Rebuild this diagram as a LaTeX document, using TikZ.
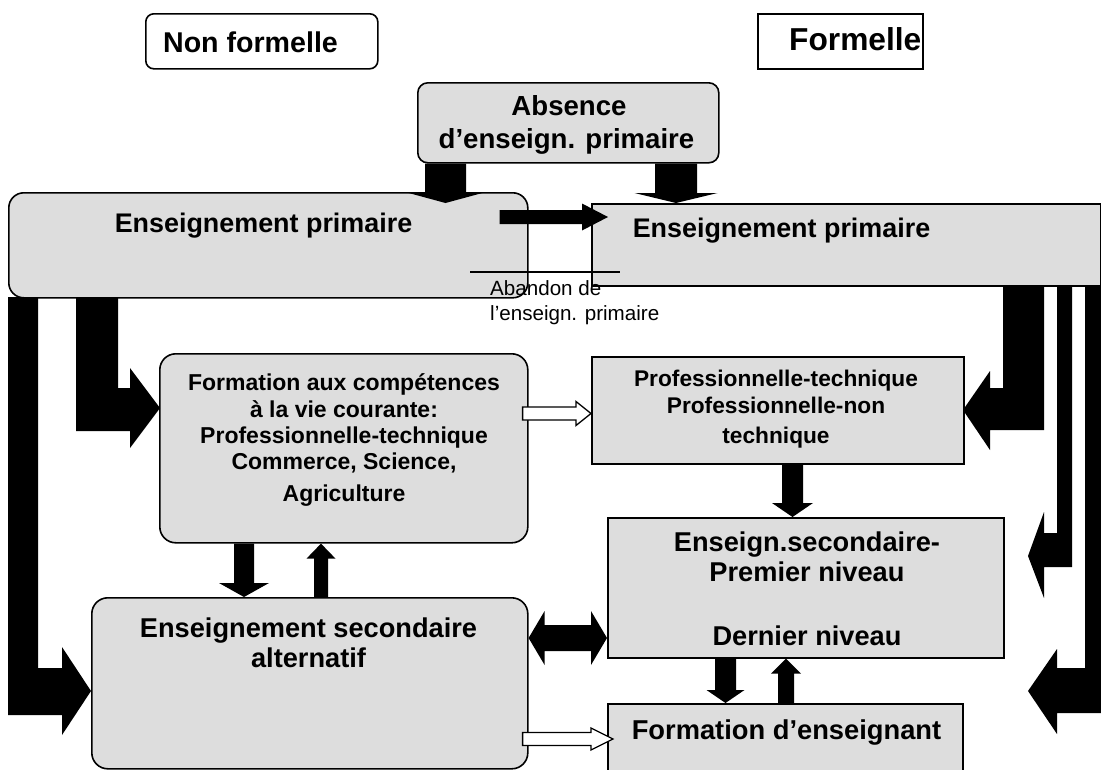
\documentclass[tikz,border=0pt]{standalone}
\usepackage{fontspec}
\setmainfont{Liberation Sans}
\usetikzlibrary{calc}
\definecolor{boxgray}{RGB}{221,221,221}
\newcommand\myfs[1]{\fontsize{#1}{#1}\selectfont\bfseries}
\newcommand\myfr[1]{\fontsize{#1}{#1}\selectfont}
% vertical fat arrows: #2 start, #3 tip, #4 shaft half width, #5 head half width, #6 head length
\newcommand\fatdown[6][fatarrow]{%
  \path[#1] let \p1=#2, \p2=#3 in
  (\x1-#4pt,\y1) -- (\x1+#4pt,\y1) -- (\x1+#4pt,\y2+#6pt) -- (\x1+#5pt,\y2+#6pt)
  -- (\x1,\y2) -- (\x1-#5pt,\y2+#6pt) -- (\x1-#4pt,\y2+#6pt) -- cycle;}
\newcommand\fatup[6][fatarrow]{%
  \path[#1] let \p1=#2, \p2=#3 in
  (\x1-#4pt,\y1) -- (\x1+#4pt,\y1) -- (\x1+#4pt,\y2-#6pt) -- (\x1+#5pt,\y2-#6pt)
  -- (\x1,\y2) -- (\x1-#5pt,\y2-#6pt) -- (\x1-#4pt,\y2-#6pt) -- cycle;}
\newcommand\fatright[6][fatarrow]{%
  \path[#1] let \p1=#2, \p2=#3 in
  (\x1,\y1+#4pt) -- (\x2-#6pt,\y1+#4pt) -- (\x2-#6pt,\y1+#5pt) -- (\x2,\y1)
  -- (\x2-#6pt,\y1-#5pt) -- (\x2-#6pt,\y1-#4pt) -- (\x1,\y1-#4pt) -- cycle;}
\tikzset{
  box/.style={draw=black, line width=1.6pt, fill=boxgray, inner sep=0pt, anchor=north west},
  wbox/.style={box, fill=white},
  lbl/.style={inner sep=0pt, anchor=base, align=center},
  fatarrow/.style={fill=black},
  hollow/.style={fill=white, draw=black, line width=1.3pt},
}
\begin{document}
\begin{tikzpicture}[x=1pt, y=-1pt]
\clip (0,0) rectangle (1101,769);
\fill[white] (0,0) rectangle (1101,769);

% ---------- boxes ----------
\node[wbox, rounded corners=8pt, minimum width=232pt, minimum height=55pt] (nonf) at (145,13) {};
\node[wbox, minimum width=165pt, minimum height=55pt] (form) at (757,13) {};
\node[box, rounded corners=10pt, minimum width=301pt, minimum height=80pt] (absence) at (417,82) {};
\node[box, rounded corners=15pt, minimum width=519pt, minimum height=105pt] (primL) at (8,192) {};
\node[box, minimum width=509pt, minimum height=82pt] (primR) at (591,203) {};
\node[box, rounded corners=16pt, minimum width=368pt, minimum height=189pt] (formation) at (159,353) {};
\node[box, minimum width=372pt, minimum height=107pt] (prof) at (591,356) {};
\node[box, minimum width=396pt, minimum height=140pt] (ensSec) at (607,517) {};
\node[box, rounded corners=16pt, minimum width=436pt, minimum height=171pt] (alt) at (91,597) {};
\node[box, minimum width=355pt, minimum height=90pt] (formEns) at (607,703) {};

% ---------- texts ----------
\node[lbl, font=\myfs{28.6}] (tNonf) at (250.5,52) {Non formelle};
\node[lbl, anchor=base west, font=\myfs{31.7}] (tForm) at (789,50) {Formelle};
\node[lbl, font=\myfs{27.6}] (tAbs1) at (569,115) {Absence};
\node[lbl, font=\myfs{27.6}] (tAbs2) at (566.5,148) {d’enseign. primaire};
\node[lbl, font=\myfs{26.9}] (tPrimL) at (263.5,232) {Enseignement primaire};
\node[lbl, font=\myfs{26.9}] (tPrimR) at (781.5,237) {Enseignement primaire};
\node[lbl, font=\myfs{23}] (tF1) at (344,390) {Formation aux compétences};
\node[lbl, font=\myfs{23}] (tF2) at (344,417) {à la vie courante:};
\node[lbl, font=\myfs{23}] (tF3) at (344,443) {Professionnelle-technique};
\node[lbl, font=\myfs{23}] (tF4) at (344,469) {Commerce, Science,};
\node[lbl, font=\myfs{23}] (tF5) at (344,501) {Agriculture};
\node[lbl, font=\myfs{22.7}] (tP1) at (776,386) {Professionnelle-technique};
\node[lbl, font=\myfs{22.7}] (tP2) at (776,413) {Professionnelle-non};
\node[lbl, font=\myfs{22.7}] (tP3) at (776,443) {technique};
\node[lbl, font=\myfs{27.2}] (tS1) at (807,551) {Enseign.secondaire-};
\node[lbl, font=\myfs{27.2}] (tS2) at (807,581) {Premier niveau};
\node[lbl, font=\myfs{27.2}] (tS3) at (807,645) {Dernier niveau};
\node[lbl, font=\myfs{27.2}] (tA1) at (308.5,637) {Enseignement secondaire};
\node[lbl, font=\myfs{27.2}] (tA2) at (308.5,667) {alternatif};
\node[lbl, font=\myfs{27.3}] (tE1) at (786.5,739) {Formation d’enseignant};

% ---------- abandon ----------
\draw[line width=1.2pt] (470,272) coordinate (abA) -- (620,272) coordinate (abB);
\node[lbl, anchor=base west, font=\myfr{20.6}] (tAb1) at (490,295) {Abandon de};
\node[lbl, anchor=base west, font=\myfr{20.6}] (tAb2) at (490,320) {l’enseign. primaire};

% ---------- straight fat arrows ----------
\fatdown{($(absence.south west)+(28.5,0)$)}{($(primL.north west)+(437.5,11)$)}{20.5}{40.5}{11}
\fatdown{($(absence.south west)+(259,0)$)}{($(primR.north west)+(85,0)$)}{21}{41.5}{10}
\fatright{($(primL.north east)+(-29,25)$)}{($(primR.north west)+(17,14)$)}{7}{13.5}{26}
\fatright[hollow]{($(formation.north east)+(-6,60.5)$)}{($(prof.north west)+(0,57.5)$)}{6.5}{12}{15}
\fatdown{($(prof.south west)+(201.5,0)$)}{($(ensSec.north west)+(185.5,0)$)}{10.5}{20.5}{14}
\fatdown{($(formation.south west)+(85,0)$)}{($(alt.north west)+(153,0)$)}{10}{25}{14}
\fatup{($(alt.north west)+(230,0)$)}{($(formation.south west)+(162,0)$)}{7}{14.5}{15}
\fatdown{($(ensSec.south west)+(118.5,0)$)}{($(formEns.north west)+(118.5,0)$)}{10.5}{19}{13}
\fatup{($(formEns.north west)+(179,0)$)}{($(ensSec.south west)+(179,0)$)}{8}{15}{15}
\fatright[hollow]{($(alt.north east)+(-6,142)$)}{($(formEns.north west)+(6,36)$)}{6.5}{11}{22}

% double arrow alt <-> ensSec
\path[fatarrow] let \p1=($(alt.north east)+(0,41)$), \p2=($(ensSec.north west)+(0,121)$) in
  (\x1,\y1) -- (\x1+16pt,\y1+27pt) -- (\x1+16pt,\y1+13pt) -- (\x2-16pt,\y1+13pt)
  -- (\x2-16pt,\y1+27pt) -- (\x2,\y1) -- (\x2-16pt,\y1-27pt) -- (\x2-16pt,\y1-13pt)
  -- (\x1+16pt,\y1-13pt) -- (\x1+16pt,\y1-27pt) -- cycle;

% ---------- bent arrows, left (from non formal primary) ----------
\fill[fatarrow] (8,297) -- (38,297) -- (38,668) -- (62,668) -- (62,647) -- (91,691)
  -- (62,735) -- (62,715) -- (8,715) -- cycle;
\fill[fatarrow] (76,297) -- (118,297) -- (118,388) -- (130,388) -- (130,368) -- (160,408)
  -- (130,448) -- (130,431) -- (76,431) -- cycle;

% ---------- bent arrows, right (from formal primary) ----------
\fill[fatarrow] (1044,285) -- (1003,285) -- (1003,388) -- (990,388) -- (990,371) -- (963,410)
  -- (990,450) -- (990,430) -- (1044,430) -- cycle;
\fill[fatarrow] (1072,285) -- (1057,285) -- (1057,533) -- (1044,533) -- (1044,512) -- (1028,556)
  -- (1044,598) -- (1044,567) -- (1072,567) -- cycle;
\fill[fatarrow] (1101,285) -- (1085,285) -- (1085,668) -- (1057,668) -- (1057,649) -- (1028,691)
  -- (1057,734) -- (1057,713) -- (1101,713) -- cycle;
\end{tikzpicture}
\end{document}
